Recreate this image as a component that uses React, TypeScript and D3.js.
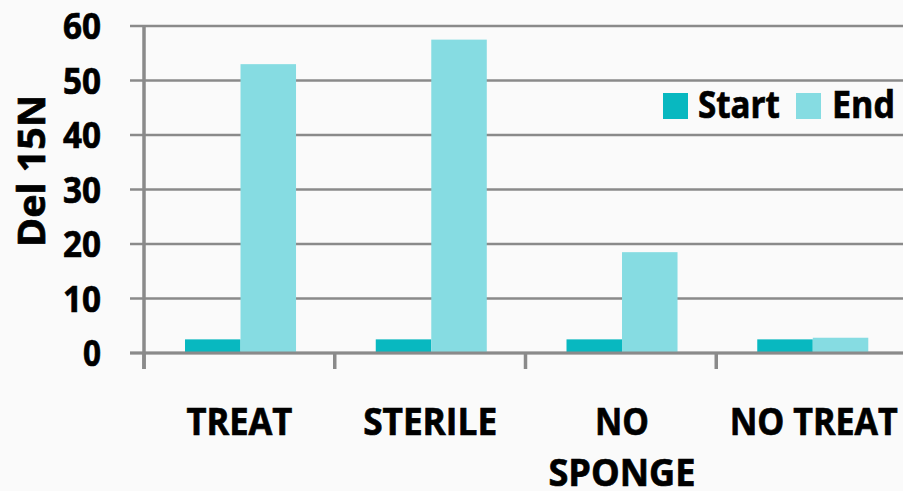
import React from "react";
import * as d3 from "d3";

const categories = ["TREAT", "STERILE", "NO SPONGE", "NO TREAT"];
const categoryLines = [["TREAT"], ["STERILE"], ["NO", "SPONGE"], ["NO TREAT"]];
const seriesNames = ["Start", "End"];
const startValues = [2.5, 2.5, 2.5, 2.5];
const endValues = [53.0, 57.5, 18.5, 2.8];
const yTicks = [0, 10, 20, 30, 40, 50, 60];
const colors = ["#08B8C0", "#86DCE2"];

const W = 903;
const H = 491;
const FONT = "'Open Sans', 'Liberation Sans', sans-serif";

const labelWidths: Record<string, number> = {
  TREAT: 106,
  STERILE: 134,
  NO: 54,
  SPONGE: 147,
  "NO TREAT": 168,
};

const textStyle = { stroke: "#000", strokeWidth: 0.7 };

export default function App() {
  const x0 = d3.scaleBand<string>().domain(categories).range([144, 907]).paddingInner(0).paddingOuter(0);
  const bw = x0.bandwidth();
  const x1 = d3.scaleBand<string>().domain(seriesNames).range([bw * 0.215, bw * 0.797]);
  const y = d3.scaleLinear().domain([0, 60]).range([353, 26]);
  const data = [startValues, endValues];

  return (
    <svg width={W} height={H} style={{ position: "absolute", left: 0, top: 0, background: "#fafafa" }}>
      <rect x={0} y={0} width={W} height={H} fill="#fafafa" />
      {yTicks.map((t) => (
        <line key={"g" + t} x1={130} x2={W} y1={y(t)} y2={y(t)} stroke="#8a8a8a" strokeWidth={2.5} />
      ))}
      {yTicks.map((t) => (
        <text
          key={"t" + t}
          x={101}
          y={y(t) + 13}
          textAnchor="end"
          fontFamily={FONT}
          fontWeight="bold"
          fontSize={36}
          fill="#000"
          {...textStyle}
          textLength={t === 0 ? 18 : 38}
          lengthAdjust="spacingAndGlyphs"
        >
          {t}
        </text>
      ))}
      {categories.map((c, i) =>
        seriesNames.map((s, j) => (
          <rect
            key={c + s}
            x={(x0(c) as number) + (x1(s) as number)}
            y={y(data[j][i])}
            width={x1.bandwidth()}
            height={y(0) - y(data[j][i])}
            fill={colors[j]}
          />
        ))
      )}
      <line x1={144} x2={144} y1={25} y2={369} stroke="#8a8a8a" strokeWidth={3.5} />
      <line x1={130} x2={W} y1={y(0)} y2={y(0)} stroke="#8a8a8a" strokeWidth={3} />
      {categories.map((c) => (
        <line key={"ct" + c} x1={x0(c) as number} x2={x0(c) as number} y1={y(0)} y2={369} stroke="#8a8a8a" strokeWidth={3.5} />
      ))}
      {categories.map((c, i) =>
        categoryLines[i].map((line, k) => (
          <text
            key={c + k}
            x={(x0(c) as number) + bw / 2 + (i === 3 ? 2 : i === 2 ? 1 : 0)}
            y={435 + k * 51}
            textAnchor="middle"
            fontFamily={FONT}
            fontWeight="bold"
            fontSize={38}
            fill="#000"
            {...textStyle}
            textLength={labelWidths[line]}
            lengthAdjust="spacingAndGlyphs"
          >
            {line}
          </text>
        ))
      )}
      <text
        transform={`translate(45,171) rotate(-90)`}
        textAnchor="middle"
        fontFamily={FONT}
        fontWeight="bold"
        fontSize={38}
        fill="#000"
        {...textStyle}
        textLength={152}
        lengthAdjust="spacingAndGlyphs"
      >
        Del 15N
      </text>
      <rect x={663} y={93} width={25} height={26} fill={colors[0]} />
      <text x={698} y={118} fontFamily={FONT} fontWeight="bold" fontSize={38} fill="#000" {...textStyle} textLength={82} lengthAdjust="spacingAndGlyphs">
        {seriesNames[0]}
      </text>
      <rect x={796} y={93} width={25} height={26} fill={colors[1]} />
      <text x={832} y={118} fontFamily={FONT} fontWeight="bold" fontSize={38} fill="#000" {...textStyle} textLength={63} lengthAdjust="spacingAndGlyphs">
        {seriesNames[1]}
      </text>
    </svg>
  );
}
